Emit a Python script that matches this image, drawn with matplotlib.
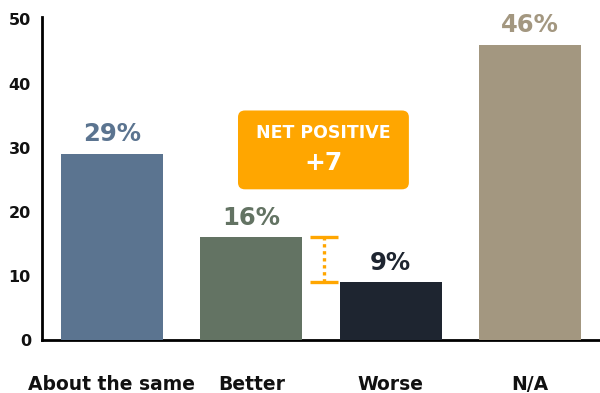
import matplotlib.pyplot as plt
from matplotlib.patches import FancyBboxPatch

categories = ["About the same", "Better", "Worse", "N/A"]
values = [29, 16, 9, 46]
bar_colors = ["#5b7490", "#637363", "#1e2530", "#a39780"]
label_colors = ["#5b7490", "#637363", "#1e2530", "#a39780"]
net_value = values[1] - values[2]
orange = "#ffa600"

plt.rcParams['font.family'] = ['DejaVu Sans']

fig = plt.figure(figsize=(6, 3.93), dpi=100)
ax = fig.add_axes([0.07, 0.135, 0.93, 0.822])

x = range(len(categories))
ax.bar(x, values, width=0.73, color=bar_colors, zorder=3)
for i, v in enumerate(values):
    ax.text(i, v + 1.2, f"{v}%", ha="center", va="bottom", fontsize=17.5,
            fontweight="bold", color=label_colors[i])

ax.set_xlim(-0.5, 3.5)
ax.set_ylim(0, 50.4)
ax.set_yticks(range(0, 51, 10))
ax.set_xticks(list(x))
ax.set_xticklabels(categories)
ax.tick_params(axis="both", length=0, labelsize=11.5)
ax.tick_params(axis="x", pad=25, labelsize=13.5)
ax.tick_params(axis="y", pad=8)
for lbl in ax.get_xticklabels() + ax.get_yticklabels():
    lbl.set_fontweight("bold")
    lbl.set_color("#111111")

for side in ["top", "right"]:
    ax.spines[side].set_visible(False)
ax.spines["left"].set_linewidth(2)
ax.spines["bottom"].set_linewidth(2)

# bracket showing the gap between Better and Worse
bx = 1.52
ax.plot([bx, bx], [values[2], values[1]], color=orange, lw=2.4,
        linestyle=(0, (1, 1.1)), zorder=4)
for yv in (values[1], values[2]):
    ax.plot([bx - 0.1, bx + 0.1], [yv, yv], color=orange, lw=2.4,
            solid_capstyle="butt", zorder=4)

# callout box
box = FancyBboxPatch((0.905, 23.5), 1.225, 12.3,
                     boxstyle="round,pad=0,rounding_size=0.05",
                     mutation_aspect=21, facecolor=orange, edgecolor="none",
                     zorder=5)
ax.add_patch(box)
ax.text(1.518, 32.3, "NET POSITIVE", ha="center", va="center", fontsize=12.5,
        fontweight="bold", color="white", zorder=6)
ax.text(1.518, 27.6, f"+{net_value}", ha="center", va="center", fontsize=18,
        fontweight="bold", color="white", zorder=6)

fig.savefig("out.png", dpi=100)
